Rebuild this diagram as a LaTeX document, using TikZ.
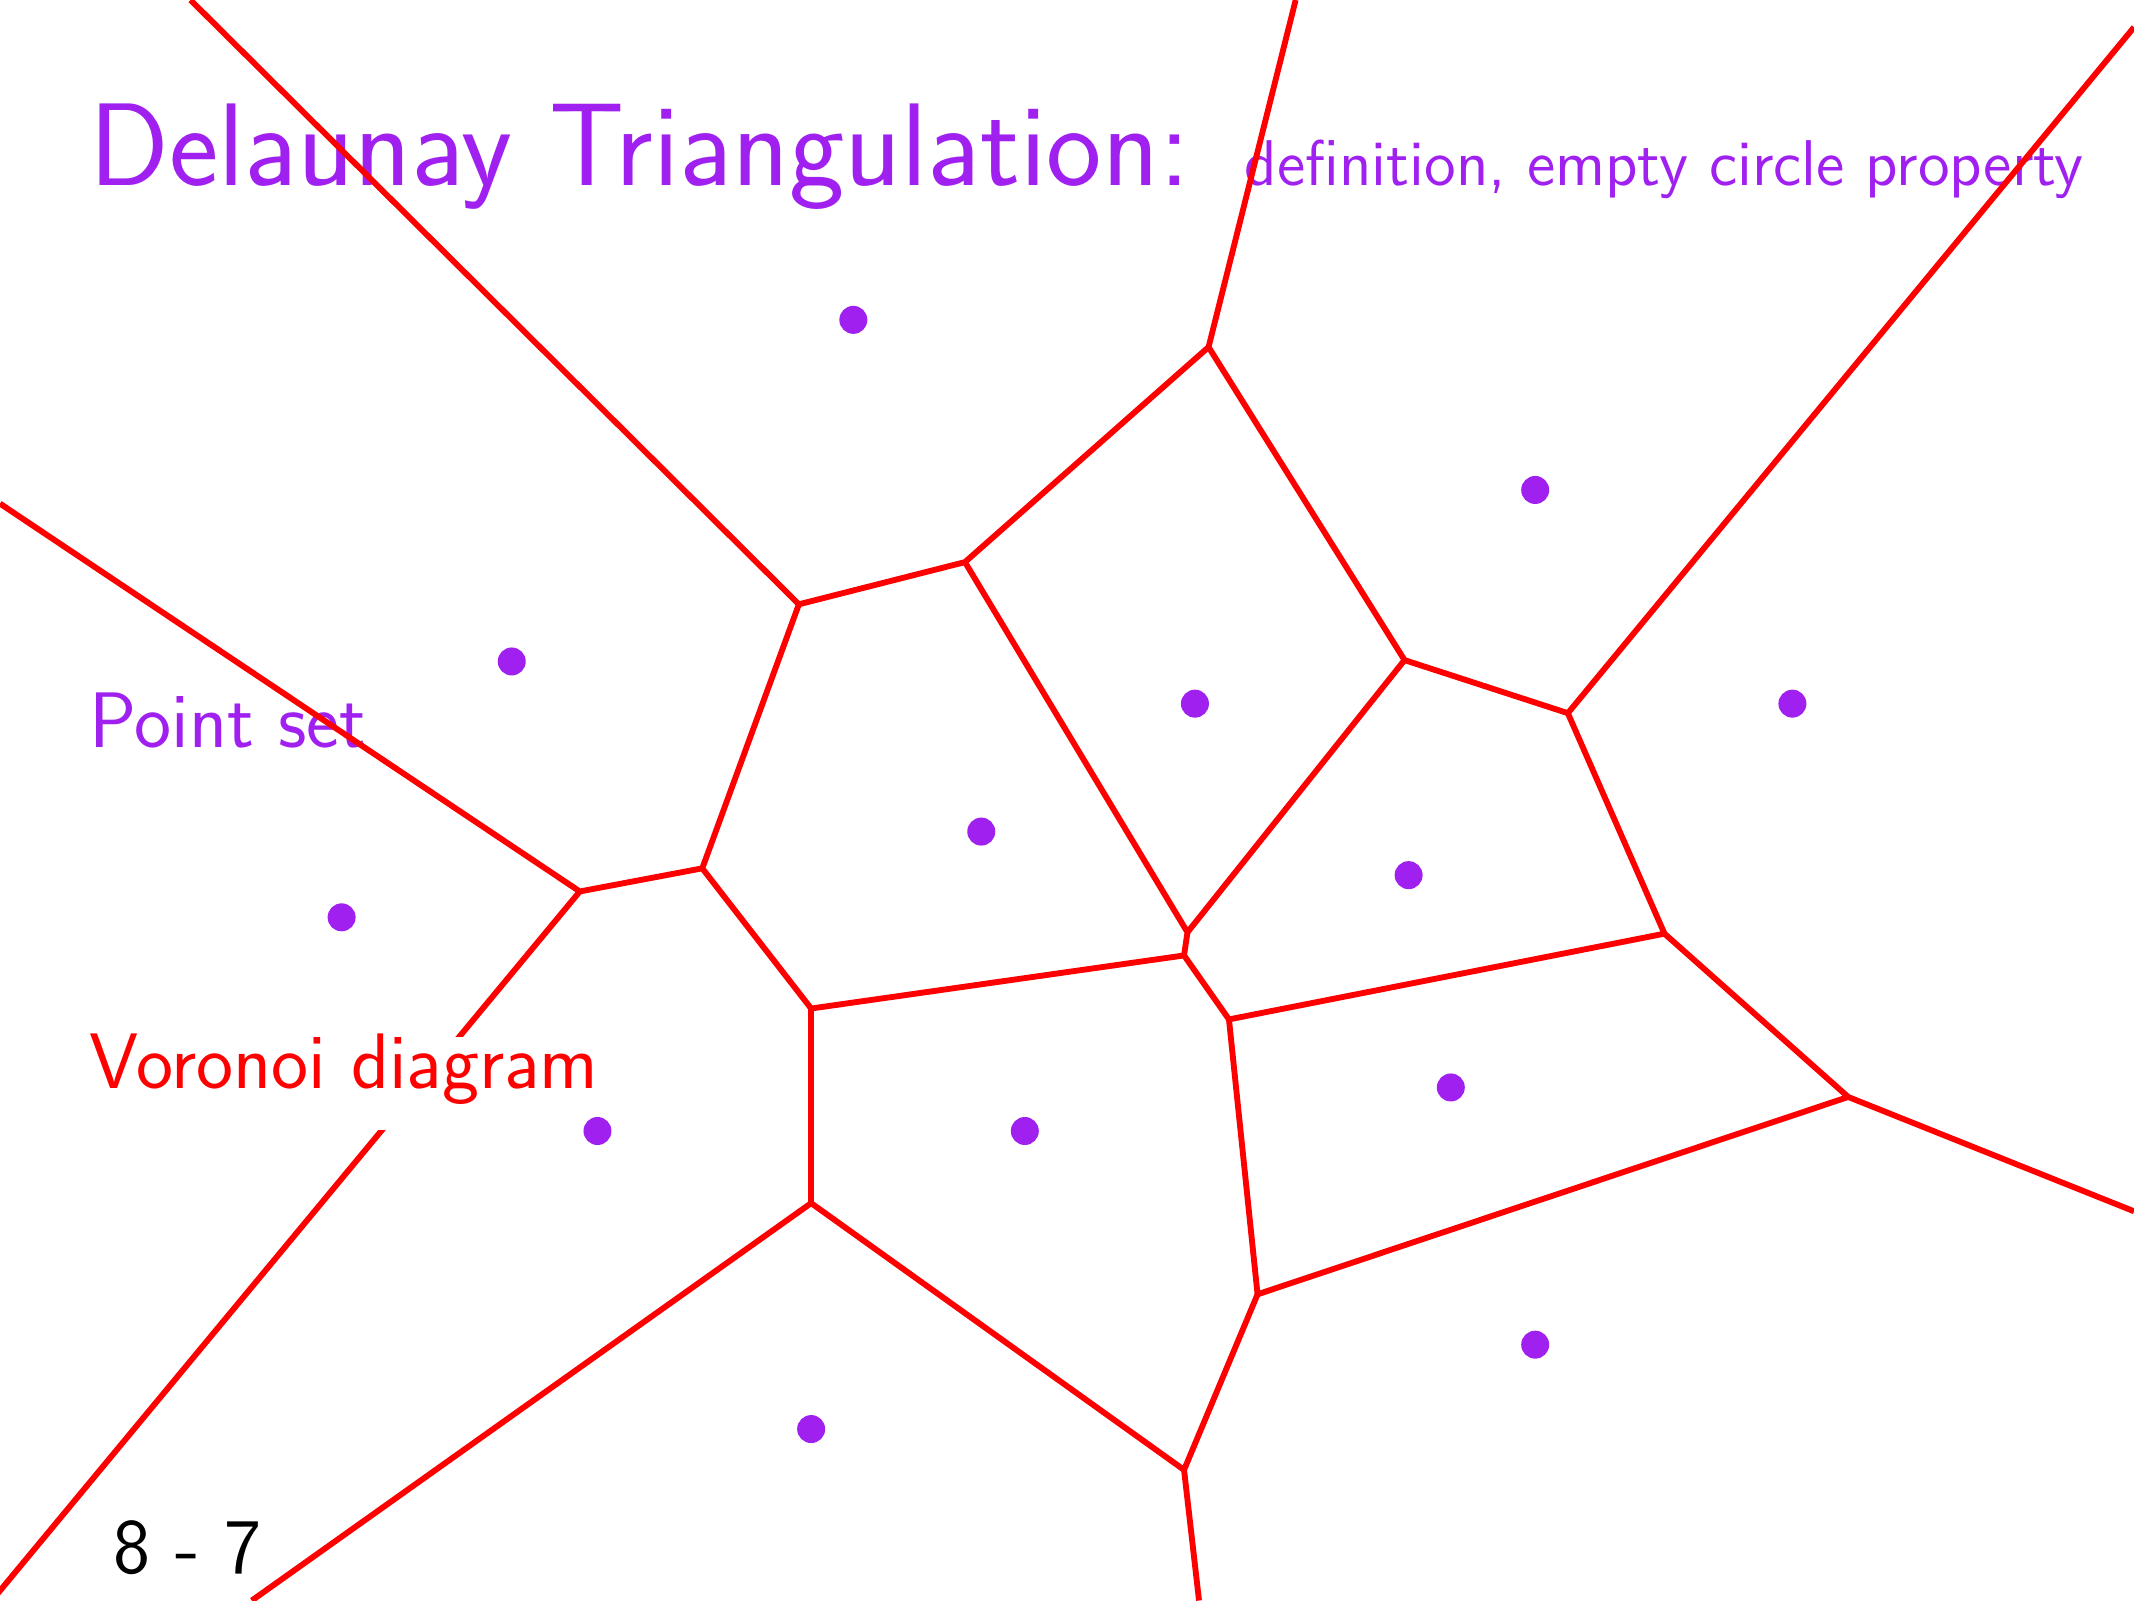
\documentclass[tikz,border=0pt]{standalone}
\usepackage{tikz}
\usetikzlibrary{positioning}
\definecolor{sitecol}{RGB}{160, 32, 240}
\definecolor{vorcol}{RGB}{255, 0, 0}
\tikzset{
  site/.style  = {circle, fill=sitecol, inner sep=0pt, minimum size=2.1mm},
  cell/.style  = {draw=vorcol, line width=1.25pt, line join=round},
  title/.style = {font=\sffamily\fontsize{25.1}{30}\selectfont, text=sitecol,
                  inner sep=0pt, anchor=base west},
  sub/.style   = {font=\sffamily\fontsize{13.8}{16}\selectfont, text=sitecol,
                  inner sep=0pt, anchor=base west},
  tag/.style   = {font=\sffamily\fontsize{16.8}{20}\selectfont, inner sep=0pt,
                  anchor=base west},
}
\begin{document}
\begin{tikzpicture}[x=0.0102041cm, y=-0.0102041cm]
  \useasboundingbox (0,0) rectangle (1568,1176);
  \clip (0,0) rectangle (1568,1176);

  %% ---------------- headings ----------------
  \node[title] (head) at (65,136) {Delaunay Triangulation:};
  \node[sub] (subhead) at (914,136) {definition, empty circle property};
  \node[tag, text=sitecol] (ptlbl) at (65,549) {Point set};
  \node[tag, text=black] (pgno) at (83,1156) {8 - 7};

  %% ---------------- Voronoi vertices ----------------
  \coordinate (vA) at (888,255);
  \coordinate (vB) at (709,413);
  \coordinate (vC) at (587,444);
  \coordinate (vD) at (1032,485);
  \coordinate (vE) at (1152,524);
  \coordinate (vF) at (516,638);
  \coordinate (vG) at (426,655);
  \coordinate (vH) at (872.5,685);
  \coordinate (vHH) at (870,702);
  \coordinate (vI) at (596,741);
  \coordinate (vJ) at (1223,686);
  \coordinate (vK) at (903,749);
  \coordinate (vL) at (1358,806);
  \coordinate (vM) at (596,884);
  \coordinate (vN) at (924,951);
  \coordinate (vO) at (870,1080);
  % unbounded edges leave the frame here
  \coordinate (xA) at (952,0);
  \coordinate (xC) at (140,0);
  \coordinate (xE) at (1568,20);
  \coordinate (xG) at (0,370);
  \coordinate (yG) at (-6,1176);
  \coordinate (xL) at (1568,890);
  \coordinate (xM) at (185,1176);
  \coordinate (xO) at (881,1176);

  %% ---------------- Voronoi diagram ----------------
  \draw[cell] (xC) -- (vC) -- (vB) -- (vA) -- (xA);
  \draw[cell] (vA) -- (vD) -- (vE) -- (xE);
  \draw[cell] (vB) -- (vH) -- (vHH) -- (vI) -- (vF) -- (vC);
  \draw[cell] (vD) -- (vH);
  \draw[cell] (xG) -- (vG) -- (vF);
  \draw[cell] (vG) -- (yG);
  \draw[cell] (vHH) -- (vK) -- (vJ) -- (vE);
  \draw[cell] (vJ) -- (vL) -- (xL);
  \draw[cell] (vL) -- (vN) -- (vK);
  \draw[cell] (xM) -- (vM) -- (vO) -- (vN);
  \draw[cell] (vI) -- (vM);
  \draw[cell] (vO) -- (xO);

  \node[tag, text=vorcol, fill=white, text height=3.9mm, text depth=3.1mm]
       (vorlbl) at (65,800) {Voronoi diagram};

  %% ---------------- the point set ----------------
  \node[site] (p1)  at (627,235)  {};
  \node[site] (p2)  at (1128,360) {};
  \node[site] (p3)  at (376,486)  {};
  \node[site] (p4)  at (878,517)  {};
  \node[site] (p5)  at (1317,517) {};
  \node[site] (p6)  at (721,611)  {};
  \node[site] (p7)  at (1035,643) {};
  \node[site] (p8)  at (251,674)  {};
  \node[site] (p9)  at (1066,799) {};
  \node[site] (p10) at (439,831)  {};
  \node[site] (p11) at (753,831)  {};
  \node[site] (p12) at (1128,988) {};
  \node[site] (p13) at (596,1050) {};

\end{tikzpicture}
\end{document}
